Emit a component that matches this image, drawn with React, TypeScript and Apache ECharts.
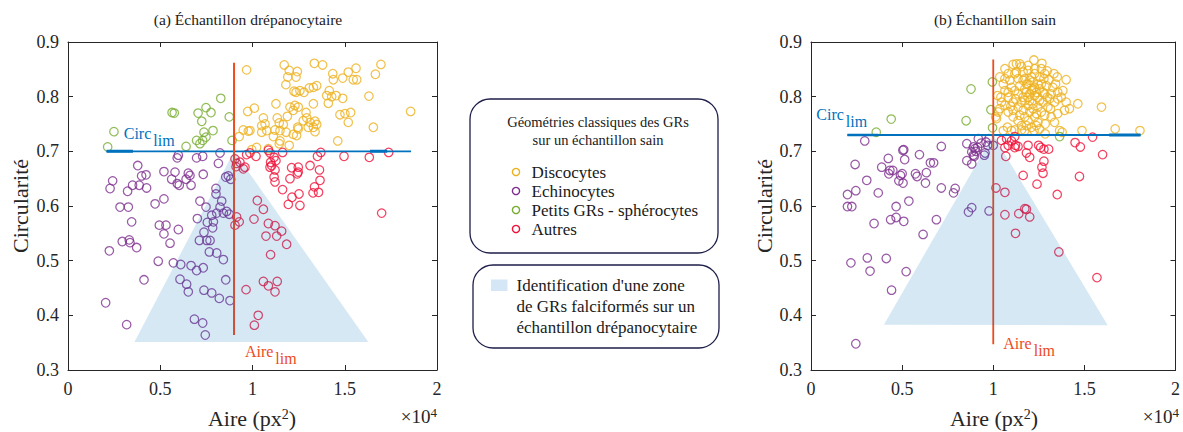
import React, { useEffect, useRef } from "react";
import * as echarts from "echarts";

// ---------- data (area in units of 10^4 px², circularity) ----------
const xTickValues = [0, 0.5, 1, 1.5, 2];
const yTickValues = [0.3, 0.4, 0.5, 0.6, 0.7, 0.8, 0.9];

// (a) sickle-cell sample
const discoA = [
  [0.968,0.849],[1.172,0.858],[1.199,0.848],[1.243,0.846],[1.191,0.836],[1.236,0.836],[1.181,0.822],[1.335,0.861],[1.380,0.858],[1.561,0.852],
  [1.696,0.859],[1.666,0.841],[1.435,0.842],[1.438,0.831],[1.489,0.834],[1.519,0.845],[1.546,0.831],[1.565,0.831],[1.348,0.820],[1.330,0.817],
  [1.308,0.816],[1.225,0.810],[1.236,0.808],[1.279,0.808],[1.257,0.811],[1.416,0.811],[1.402,0.802],[1.429,0.800],[1.453,0.802],[1.411,0.788],
  [1.489,0.797],[1.631,0.801],[1.857,0.773],[1.655,0.744],[1.462,0.719],[1.474,0.767],[1.501,0.769],[1.532,0.771],[1.519,0.753],[1.330,0.787],
  [1.127,0.787],[1.203,0.781],[1.230,0.784],[1.248,0.781],[1.221,0.775],[1.290,0.771],[1.294,0.761],[1.275,0.756],[1.312,0.753],[1.339,0.755],
  [1.348,0.749],[1.330,0.744],[1.302,0.744],[1.339,0.736],[1.189,0.764],[1.134,0.761],[0.974,0.773],[1.010,0.779],[1.059,0.761],[1.050,0.747],
  [1.068,0.750],[1.077,0.738],[1.050,0.735],[1.145,0.752],[1.167,0.749],[1.122,0.739],[1.149,0.738],[1.182,0.735],[1.245,0.744],[1.221,0.731],
  [1.239,0.729],[1.248,0.741],[0.950,0.739],[0.977,0.737],[0.986,0.738],[0.928,0.727],[1.113,0.727],[1.149,0.719],[1.145,0.714],[1.199,0.711],
  [1.086,0.705],[1.022,0.707],[0.996,0.703],
];
const echinoA = [
  [0.598,0.693],[0.592,0.688],[0.697,0.688],[0.730,0.691],[0.824,0.697],[0.815,0.678],[0.378,0.674],[0.242,0.646],[0.228,0.632],[0.323,0.627],
  [0.350,0.638],[0.386,0.638],[0.426,0.633],[0.399,0.655],[0.423,0.657],[0.520,0.663],[0.580,0.662],[0.562,0.649],[0.592,0.641],[0.603,0.638],
  [0.652,0.660],[0.661,0.656],[0.640,0.649],[0.667,0.638],[0.733,0.658],[0.802,0.622],[0.869,0.655],[0.882,0.649],[0.855,0.653],[0.282,0.598],
  [0.327,0.598],[0.472,0.604],[0.520,0.613],[0.715,0.609],[0.833,0.609],[0.748,0.598],[0.824,0.598],[0.345,0.571],[0.495,0.565],[0.531,0.565],
  [0.520,0.549],[0.598,0.557],[0.553,0.532],[0.294,0.535],[0.332,0.538],[0.336,0.533],[0.372,0.524],[0.224,0.518],[0.701,0.577],[0.779,0.583],
  [0.788,0.571],[0.755,0.570],[0.784,0.560],[0.806,0.587],[0.842,0.587],[0.860,0.590],[0.874,0.585],[0.737,0.552],[0.712,0.537],[0.752,0.537],
  [0.770,0.537],[0.766,0.516],[0.806,0.514],[0.842,0.502],[0.489,0.499],[0.571,0.496],[0.611,0.493],[0.667,0.491],[0.697,0.482],[0.733,0.487],
  [0.412,0.465],[0.607,0.466],[0.643,0.457],[0.652,0.443],[0.737,0.446],[0.779,0.441],[0.820,0.431],[0.855,0.465],[0.878,0.427],[0.204,0.423],
  [0.318,0.383],[0.685,0.393],[0.730,0.386],[0.744,0.364],[0.802,0.632],
];
const spheroA = [
  [0.249,0.736],[0.215,0.708],[0.564,0.771],[0.576,0.770],[0.828,0.797],[0.705,0.770],[0.748,0.780],[0.775,0.771],[0.725,0.755],[0.874,0.763],
  [0.786,0.738],[0.737,0.735],[0.748,0.726],[0.730,0.720],[0.697,0.720],[0.715,0.714],[0.640,0.709],[0.889,0.720],
];
const autresA = [
  [0.905,0.686],[0.914,0.678],[0.911,0.672],[0.950,0.668],[0.968,0.694],[0.986,0.697],[1.019,0.691],[1.086,0.702],[1.095,0.697],[1.117,0.689],
  [1.127,0.683],[1.098,0.680],[1.095,0.671],[1.104,0.674],[1.122,0.666],[1.117,0.653],[1.122,0.644],[1.163,0.698],[1.212,0.670],[1.248,0.671],
  [1.248,0.662],[1.243,0.659],[1.203,0.650],[1.163,0.630],[1.312,0.674],[1.363,0.666],[1.352,0.691],[1.370,0.698],[1.366,0.647],[1.336,0.635],
  [1.328,0.624],[1.358,0.625],[1.496,0.691],[1.633,0.689],[1.738,0.698],[1.252,0.622],[1.214,0.616],[1.194,0.603],[1.257,0.601],[1.700,0.587],
  [1.026,0.610],[1.059,0.594],[1.008,0.576],[1.086,0.568],[1.122,0.564],[1.158,0.554],[1.131,0.545],[1.073,0.545],[1.185,0.530],[1.098,0.511],
  [1.059,0.462],[1.086,0.454],[1.134,0.462],[1.122,0.443],[0.965,0.447],[1.031,0.400],[1.010,0.382],[0.914,0.580],[0.928,0.571],[0.905,0.565],
  [0.932,0.680],[0.959,0.671],
];
const circLimA = [[0.209, 0.70], [1.859, 0.70]];
const circLimThickA1 = [[0.209, 0.70], [0.352, 0.70]];
const circLimThickA2 = [[1.637, 0.70], [1.73, 0.70]];
const aireLimA = [[0.9, 0.364], [0.9, 0.862]];
const zoneA = [[0.36, 0.351], [0.9, 0.70], [1.628, 0.351]];
const circLabelA = [0.302, 0.747];
const aireLabelA = [0.959, 0.349];

// (b) healthy sample
const discoB = [
  [1.223,0.867],[1.267,0.861],[1.127,0.860],[1.109,0.859],[1.146,0.860],[1.064,0.851],[1.036,0.836],[1.296,0.847],[1.333,0.842],[1.400,0.831],
  [1.342,0.823],[1.382,0.811],[1.464,0.787],[1.594,0.781],[1.669,0.741],[1.805,0.738],[1.487,0.738],[1.378,0.735],[1.354,0.769],[1.418,0.778],
  [1.391,0.775],[1.336,0.790],[1.309,0.796],[1.354,0.796],[1.264,0.772],[1.227,0.763],[1.191,0.756],[1.155,0.747],[1.118,0.739],[1.109,0.763],
  [1.036,0.778],[1.018,0.760],[1.024,0.802],[1.042,0.799],[1.064,0.811],[1.055,0.823],[1.091,0.830],[1.118,0.842],[1.164,0.845],[1.191,0.848],
  [1.227,0.842],[1.255,0.836],[1.291,0.820],[1.273,0.808],[1.245,0.799],[1.200,0.805],[1.173,0.814],[1.146,0.820],[1.227,0.817],[1.218,0.827],
  [1.200,0.830],[1.173,0.833],[1.136,0.833],[1.100,0.817],[1.082,0.799],[1.109,0.790],[1.136,0.781],[1.164,0.775],[1.191,0.784],[1.218,0.787],
  [1.245,0.781],[1.273,0.790],[1.300,0.781],[1.318,0.763],[1.285,0.750],[1.254,0.741],[1.209,0.744],[1.173,0.738],[1.055,0.738],[1.078,0.744],
  [1.136,0.756],[1.082,0.772],[1.064,0.784],[1.264,0.823],[1.282,0.842],[1.318,0.805],[1.354,0.808],[1.373,0.799],[1.400,0.790],[1.264,0.851],
  [1.191,0.857],[1.155,0.855],[1.182,0.823],[1.218,0.814],[1.236,0.808],[1.254,0.814],[1.191,0.799],[1.164,0.799],[1.136,0.805],[1.118,0.811],
  [1.082,0.808],[1.045,0.790],[1.027,0.772],[1.013,0.763],[1.109,0.775],[1.146,0.766],[1.173,0.763],[1.200,0.772],[1.236,0.769],[1.282,0.766],
  [1.336,0.753],[1.364,0.738],[1.245,0.753],[1.224,0.738],[1.155,0.739],[1.100,0.738],[1.127,0.845],[1.082,0.842],[1.064,0.833],[1.278,0.833],
  [1.305,0.831],[1.327,0.817],[1.351,0.836],[1.227,0.851],[1.209,0.836],[1.164,0.830],[1.296,0.799],[1.314,0.778],[1.285,0.732],[1.236,0.747],
  [1.173,0.793],[1.122,0.796],[1.096,0.782],[1.182,0.747],[1.209,0.811],[1.182,0.808],[1.227,0.802],[1.254,0.793],[1.200,0.793],[1.155,0.790],
  [1.282,0.805],[1.218,0.778],[1.191,0.823],[1.245,0.823],
];
const echinoB = [
  [0.295,0.719],[0.242,0.676],[0.424,0.687],[0.388,0.671],[0.433,0.665],[0.427,0.659],[0.449,0.665],[0.504,0.702],[0.509,0.703],[0.514,0.685],
  [0.491,0.656],[0.482,0.646],[0.505,0.642],[0.500,0.659],[0.595,0.694],[0.573,0.659],[0.582,0.654],[0.633,0.661],[0.628,0.642],[0.655,0.679],
  [0.673,0.679],[0.715,0.709],[0.306,0.647],[0.200,0.621],[0.246,0.628],[0.369,0.624],[0.715,0.633],[0.782,0.624],[0.791,0.632],[0.200,0.599],
  [0.224,0.599],[0.467,0.599],[0.537,0.609],[0.855,0.714],[0.882,0.699],[0.896,0.691],[0.918,0.723],[0.900,0.705],[0.914,0.707],[0.933,0.715],
  [0.951,0.693],[0.960,0.717],[0.977,0.723],[0.969,0.711],[0.882,0.677],[0.855,0.683],[1.000,0.711],[0.891,0.708],[0.904,0.700],[0.891,0.693],
  [0.955,0.697],[0.346,0.568],[0.437,0.575],[0.467,0.579],[0.509,0.572],[0.688,0.575],[0.615,0.548],[0.864,0.589],[0.882,0.597],[0.977,0.591],
  [0.219,0.496],[0.309,0.505],[0.413,0.504],[0.324,0.481],[0.522,0.480],[0.442,0.446],[0.246,0.348],
];
const spheroB = [
  [0.358,0.735],[0.440,0.759],[0.878,0.814],[0.851,0.756],[0.995,0.827],[0.987,0.776],[0.996,0.743],[1.364,0.727],
];
const autresB = [
  [1.045,0.720],[1.073,0.723],[1.100,0.719],[1.118,0.727],[1.122,0.711],[1.118,0.707],[1.136,0.709],[1.064,0.707],[1.082,0.711],[1.069,0.691],
  [1.191,0.711],[1.182,0.697],[1.200,0.689],[1.249,0.711],[1.260,0.707],[1.278,0.704],[1.304,0.704],[1.278,0.682],[1.267,0.671],[1.273,0.660],
  [1.164,0.656],[1.240,0.640],[1.351,0.621],[1.449,0.716],[1.478,0.708],[1.545,0.726],[1.600,0.694],[1.473,0.654],[1.015,0.633],[1.064,0.625],
  [1.173,0.595],[1.064,0.584],[1.140,0.586],[1.182,0.594],[1.200,0.580],[1.122,0.550],[1.360,0.516],[1.569,0.469],
];
const circLimB = [[0.2, 0.73], [1.808, 0.73]];
const circLimThickB1 = [[0.2, 0.73], [0.37, 0.73]];
const circLimThickB2 = [[1.636, 0.73], [1.808, 0.73]];
const aireLimB = [[1.0, 0.347], [1.0, 0.868]];
const zoneB = [[0.4, 0.383], [1.0, 0.73], [1.628, 0.382]];
const circLabelB = [0.029, 0.782];
const aireLabelB = [1.055, 0.363];

const titles = ["(a) Échantillon drépanocytaire", "(b) Échantillon sain"];
const legendClasses = ["Discocytes", "Echinocytes", "Petits GRs - sphérocytes", "Autres"];
const legendHeader = ["Géométries classiques des GRs", "sur un échantillon sain"];
const zoneLegend = ["Identification d'une zone", "de GRs falciformés sur un", "échantillon drépanocytaire"];

// ---------- styles ----------
const FONT = '"Liberation Serif", "Times New Roman", serif';
const AX = "#262626";
const C_DISCO = "#EDB120";
const C_ECHINO = "#7E2F8E";
const C_SPHERO = "#77AC30";
const C_AUTRES = "#F0113A";
const C_CIRC = "#0072BD";
const C_AIRE = "#EE4B1E";
const ZONE_FILL = "rgba(0,114,189,0.16)";
const classColors = [C_DISCO, C_ECHINO, C_SPHERO, C_AUTRES];

const GRIDS = [
  { left: 68, top: 42, width: 369, height: 328 },
  { left: 811, top: 42, width: 367, height: 328 },
];

function xAxesFor(grid: number) {
  const common: any = {
    type: "value",
    gridIndex: grid,
    min: xTickValues[0],
    max: xTickValues[xTickValues.length - 1],
    interval: xTickValues[1] - xTickValues[0],
    splitLine: { show: false },
    axisLine: { show: true, onZero: false, lineStyle: { color: AX, width: 1 } },
    axisTick: { show: true, inside: true, length: 5, lineStyle: { color: AX } },
  };
  return [
    {
      ...common,
      position: "bottom",
      axisLabel: {
        show: true,
        margin: 10,
        color: AX,
        fontFamily: FONT,
        fontSize: 18,
        showMinLabel: true,
        showMaxLabel: true,
      },
    },
    { ...common, position: "top", axisLabel: { show: false } },
  ];
}

function yAxesFor(grid: number) {
  const common: any = {
    type: "value",
    gridIndex: grid,
    min: yTickValues[0],
    max: yTickValues[yTickValues.length - 1],
    interval: 0.1,
    splitLine: { show: false },
    axisLine: { show: true, onZero: false, lineStyle: { color: AX, width: 1 } },
    axisTick: { show: true, inside: true, length: 5, lineStyle: { color: AX } },
  };
  return [
    {
      ...common,
      position: "left",
      axisLabel: {
        show: true,
        margin: 9,
        color: AX,
        fontFamily: FONT,
        fontSize: 18,
        showMinLabel: true,
        showMaxLabel: true,
        formatter: (v: number) => v.toFixed(1),
      },
    },
    { ...common, position: "right", axisLabel: { show: false } },
  ];
}

function scatter(data: number[][], color: string, axis: number) {
  return {
    type: "scatter",
    xAxisIndex: axis,
    yAxisIndex: axis,
    data,
    symbol: "circle",
    symbolSize: 8.5,
    itemStyle: { color: "rgba(255,255,255,0)", borderColor: color, borderWidth: 1.25 },
    emphasis: { disabled: true },
    silent: true,
    z: 2,
  };
}

function seg(data: number[][], color: string, width: number, axis: number) {
  return {
    type: "line",
    xAxisIndex: axis,
    yAxisIndex: axis,
    data,
    symbol: "none",
    lineStyle: { color, width },
    silent: true,
    z: 3,
  };
}

function zone(tri: number[][], axis: number) {
  return {
    type: "custom",
    xAxisIndex: axis,
    yAxisIndex: axis,
    data: tri,
    encode: { x: 0, y: 1 },
    silent: true,
    clip: false,
    z: 4,
    renderItem: (params: any, api: any) => {
      if (params.dataIndex !== 0) return null as any;
      const pts = tri.map((p) => api.coord(p));
      return { type: "polygon", shape: { points: pts }, style: { fill: ZONE_FILL } };
    },
  };
}

function limLabel(main: string, color: string, pos: number[]) {
  return {
    type: "text",
    x: pos[0],
    y: pos[1],
    z: 20,
    style: {
      text: `{m|${main}}{s|lim}`,
      align: "left",
      verticalAlign: "top",
      rich: {
        m: { fontFamily: FONT, fontSize: 16, fill: color, color, lineHeight: 16, verticalAlign: "top" },
        s: { fontFamily: FONT, fontSize: 16, fill: color, color, lineHeight: 16, verticalAlign: "top", padding: [7, 0, 0, 2] },
      },
    },
  };
}

function staticGraphics(): any[] {
  const g: any[] = [];
  // titles
  const titleX = [248, 995];
  titles.forEach((t, i) =>
    g.push({ type: "text", x: titleX[i], y: 19, style: { text: t, fontFamily: FONT, fontSize: 15.5, fill: "#1a1a1a", align: "center", verticalAlign: "middle" } })
  );
  // y axis names
  [20, 764].forEach((x) =>
    g.push({ type: "text", x, y: 206, rotation: Math.PI / 2, style: { text: "Circularité", fontFamily: FONT, fontSize: 22, fill: AX, align: "center", verticalAlign: "middle" } })
  );
  // x axis names and exponents
  [252, 994].forEach((x) =>
    g.push({
      type: "text", x, y: 418,
      style: {
        text: "{a|Aire (px}{s|2}{a|)}", align: "center", verticalAlign: "middle",
        rich: {
          a: { fontFamily: FONT, fontSize: 22, fill: AX, color: AX, lineHeight: 22, verticalAlign: "bottom" },
          s: { fontFamily: FONT, fontSize: 14, fill: AX, color: AX, lineHeight: 22, verticalAlign: "top", padding: [0, 0, 8, 0] },
        },
      },
    })
  );
  [437, 1179].forEach((x) =>
    g.push({
      type: "text", x, y: 416,
      style: {
        text: "{a|×10}{s|4}", align: "right", verticalAlign: "middle",
        rich: {
          a: { fontFamily: FONT, fontSize: 19, fill: AX, color: AX, lineHeight: 20, verticalAlign: "bottom" },
          s: { fontFamily: FONT, fontSize: 13, fill: AX, color: AX, lineHeight: 20, verticalAlign: "top", padding: [0, 0, 8, 0] },
        },
      },
    })
  );
  // legend box 1
  g.push({ type: "rect", shape: { x: 470, y: 99, width: 248, height: 154, r: 20 }, style: { fill: "#fff", stroke: "#1e1e4a", lineWidth: 1.3 }, z: 10 });
  legendHeader.forEach((t, i) =>
    g.push({ type: "text", x: 598, y: 122 + i * 18, z: 11, style: { text: t, fontFamily: FONT, fontSize: 14.5, fill: "#1a1a1a", align: "center", verticalAlign: "middle" } })
  );
  const rowY = [172, 191, 210, 229];
  legendClasses.forEach((t, i) => {
    g.push({ type: "circle", shape: { cx: 516, cy: rowY[i], r: 3.6 }, style: { fill: "none", stroke: classColors[i], lineWidth: 1.4 }, z: 11 });
    g.push({ type: "text", x: 531.5, y: rowY[i], z: 11, style: { text: t, fontFamily: FONT, fontSize: 17, fill: "#1a1a1a", align: "left", verticalAlign: "middle" } });
  });
  // legend box 2
  g.push({ type: "rect", shape: { x: 473, y: 265, width: 246, height: 83, r: 20 }, style: { fill: "#fff", stroke: "#1e1e4a", lineWidth: 1.3 }, z: 10 });
  g.push({ type: "rect", shape: { x: 491, y: 279.5, width: 16.5, height: 11.5 }, style: { fill: "#D5E6F6" }, z: 11 });
  zoneLegend.forEach((t, i) =>
    g.push({ type: "text", x: 516.5, y: 285 + i * 21.2, z: 11, style: { text: t, fontFamily: FONT, fontSize: 17, fill: "#1a1a1a", align: "left", verticalAlign: "middle" } })
  );
  return g;
}

export default function App() {
  const ref = useRef<HTMLDivElement>(null);
  useEffect(() => {
    if (!ref.current) return;
    const chart = echarts.init(ref.current, null, { renderer: "svg" });
    const option: any = {
      animation: false,
      backgroundColor: "#ffffff",
      grid: GRIDS,
      xAxis: [...xAxesFor(0), ...xAxesFor(1)],
      yAxis: [...yAxesFor(0), ...yAxesFor(1)],
      series: [
        scatter(discoA, C_DISCO, 0),
        scatter(echinoA, C_ECHINO, 0),
        scatter(spheroA, C_SPHERO, 0),
        scatter(autresA, C_AUTRES, 0),
        seg(circLimA, C_CIRC, 1.6, 0),
        seg(circLimThickA1, C_CIRC, 3, 0),
        seg(circLimThickA2, C_CIRC, 3, 0),
        seg(aireLimA, C_AIRE, 2, 0),
        zone(zoneA, 0),
        scatter(discoB, C_DISCO, 2),
        scatter(echinoB, C_ECHINO, 2),
        scatter(spheroB, C_SPHERO, 2),
        scatter(autresB, C_AUTRES, 2),
        seg(circLimB, C_CIRC, 2, 2),
        seg(circLimThickB1, C_CIRC, 2.6, 2),
        seg(circLimThickB2, C_CIRC, 3, 2),
        seg(aireLimB, C_AIRE, 1.8, 2),
        zone(zoneB, 2),
      ],
    };
    chart.setOption(option);
    const px = (axis: number, p: number[]) =>
      chart.convertToPixel({ xAxisIndex: axis, yAxisIndex: axis } as any, p) as number[];
    const graphics = [
      ...staticGraphics(),
      limLabel("Circ", C_CIRC, px(0, circLabelA)),
      limLabel("Aire", C_AIRE, px(0, aireLabelA)),
      limLabel("Circ", C_CIRC, px(2, circLabelB)),
      limLabel("Aire", C_AIRE, px(2, aireLabelB)),
    ];
    chart.setOption({ graphic: graphics });
    return () => chart.dispose();
  }, []);
  return (
    <div
      ref={ref}
      style={{ position: "fixed", left: 0, top: 0, width: 1183, height: 432, background: "#fff" }}
    />
  );
}
